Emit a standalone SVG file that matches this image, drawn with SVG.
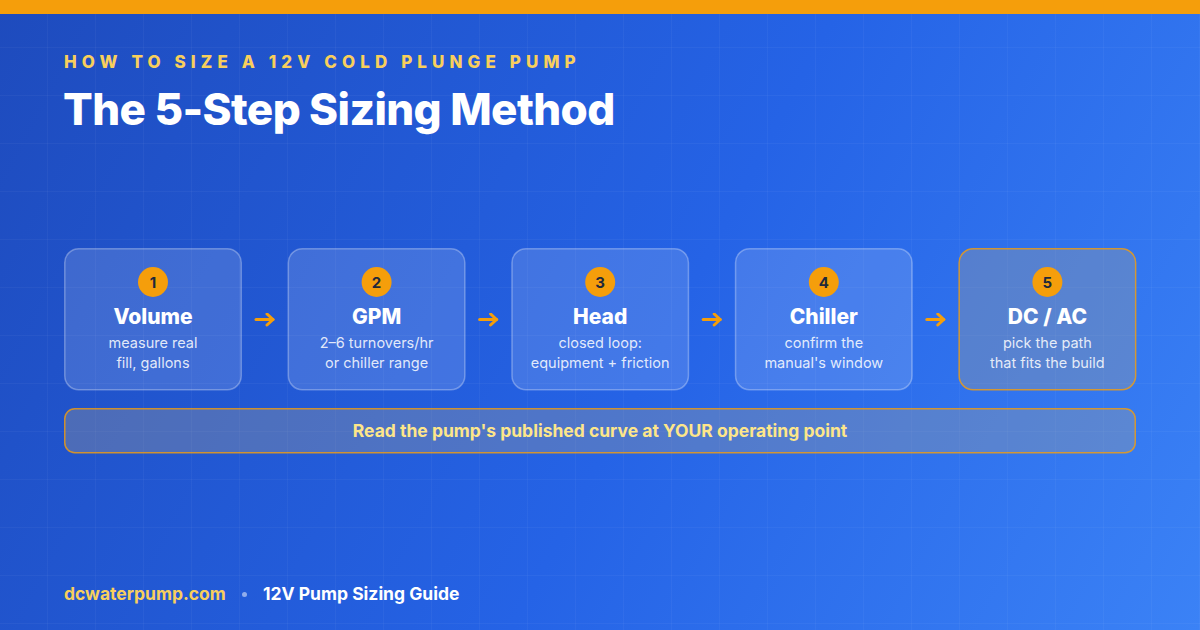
<svg xmlns="http://www.w3.org/2000/svg" width="1200" height="630" viewBox="0 0 1200 630">
<defs>
<linearGradient id="bg" x1="0" y1="0" x2="1200" y2="630" gradientUnits="userSpaceOnUse">
<stop offset="0" stop-color="#1e4bbd"/>
<stop offset="0.55" stop-color="#2563e6"/>
<stop offset="1" stop-color="#3b82f6"/>
</linearGradient>
<pattern id="grid" width="48" height="48" patternUnits="userSpaceOnUse">
<path d="M48 0V48M0 48H48" fill="none" stroke="#ffffff" stroke-opacity="0.07" stroke-width="1"/>
</pattern>
<marker id="ah" viewBox="0 0 14 14" refX="11" refY="7" markerWidth="14" markerHeight="14" markerUnits="userSpaceOnUse" orient="auto">
<path d="M5 1.5L11 7L5 12.5" fill="none" stroke="#f59e0b" stroke-width="3" stroke-linecap="round" stroke-linejoin="round"/>
</marker>
</defs>
<style>
.card{fill:#ffffff;fill-opacity:0.14;stroke:#ffffff;stroke-opacity:0.3;stroke-width:1.5}
.card5{fill:#b4a58c;fill-opacity:0.3;stroke:#f59e0b;stroke-opacity:0.8;stroke-width:1.5}
.badge{fill:#f59e0b}
.num{font-family:Inter,"Liberation Sans",sans-serif;font-weight:700;font-size:15px;fill:#1e293b;text-anchor:middle}
.ttl{font-family:Inter,"Liberation Sans",sans-serif;font-weight:800;font-size:21px;fill:#ffffff;text-anchor:middle}
.sub{font-family:Inter,"Liberation Sans",sans-serif;font-size:14.5px;fill:#ffffff;fill-opacity:0.86;text-anchor:middle}
.conn{stroke:#f59e0b;stroke-width:3;stroke-linecap:round;fill:none}
</style>
<rect width="1200" height="630" fill="url(#bg)"/>
<rect width="1200" height="630" fill="url(#grid)"/>
<rect width="1200" height="14" fill="#f59e0b"/>
<text x="64" y="68" font-family="Inter,'Liberation Sans',sans-serif" font-weight="800" font-size="17" letter-spacing="5.1" fill="#f8cf5c">HOW TO SIZE A 12V COLD PLUNGE PUMP</text>
<text x="63" y="125" font-family="Inter,'Liberation Sans',sans-serif" font-weight="800" font-size="44" letter-spacing="-0.6" fill="#ffffff">The 5-Step Sizing Method</text>
<g id="step1">
<rect class="card" x="64.75" y="248.75" width="176.5" height="141" rx="14"/>
<circle class="badge" cx="153" cy="282" r="15"/>
<text class="num" x="153" y="287.5">1</text>
<text class="ttl" x="153" y="324">Volume</text>
<text class="sub" x="153" y="348">measure real</text>
<text class="sub" x="153" y="368">fill, gallons</text>
</g>
<g id="step2">
<rect class="card" x="288.35" y="248.75" width="176.5" height="141" rx="14"/>
<circle class="badge" cx="376.6" cy="282" r="15"/>
<text class="num" x="376.6" y="287.5">2</text>
<text class="ttl" x="376.6" y="324">GPM</text>
<text class="sub" x="376.6" y="348">2–6 turnovers/hr</text>
<text class="sub" x="376.6" y="368">or chiller range</text>
</g>
<g id="step3">
<rect class="card" x="511.95" y="248.75" width="176.5" height="141" rx="14"/>
<circle class="badge" cx="600.2" cy="282" r="15"/>
<text class="num" x="600.2" y="287.5">3</text>
<text class="ttl" x="600.2" y="324">Head</text>
<text class="sub" x="600.2" y="348">closed loop:</text>
<text class="sub" x="600.2" y="368">equipment + friction</text>
</g>
<g id="step4">
<rect class="card" x="735.55" y="248.75" width="176.5" height="141" rx="14"/>
<circle class="badge" cx="823.8" cy="282" r="15"/>
<text class="num" x="823.8" y="287.5">4</text>
<text class="ttl" x="823.8" y="324">Chiller</text>
<text class="sub" x="823.8" y="348">confirm the</text>
<text class="sub" x="823.8" y="368">manual's window</text>
</g>
<g id="step5">
<rect class="card5" x="959.15" y="248.75" width="176.5" height="141" rx="14"/>
<circle class="badge" cx="1047.4" cy="282" r="15"/>
<text class="num" x="1047.4" y="287.5">5</text>
<text class="ttl" x="1047.4" y="324">DC / AC</text>
<text class="sub" x="1047.4" y="348">pick the path</text>
<text class="sub" x="1047.4" y="368">that fits the build</text>
</g>
<g id="connectors">
<path class="conn" d="M256 319.5H273" marker-end="url(#ah)"/>
<path class="conn" d="M479.6 319.5H496.6" marker-end="url(#ah)"/>
<path class="conn" d="M703.2 319.5H720.2" marker-end="url(#ah)"/>
<path class="conn" d="M926.8 319.5H943.8" marker-end="url(#ah)"/>
</g>
<g id="callout">
<rect x="64.75" y="408.75" width="1070.5" height="44" rx="10" fill="#b4a58c" fill-opacity="0.3" stroke="#f59e0b" stroke-opacity="0.8" stroke-width="1.5"/>
<text x="600" y="437" text-anchor="middle" font-family="Inter,'Liberation Sans',sans-serif" font-weight="700" font-size="17.5" fill="#fde68a">Read the pump's published curve at YOUR operating point</text>
</g>
<text x="64" y="600" font-family="Inter,'Liberation Sans',sans-serif" font-weight="700" font-size="17.5" fill="#f8cf5c">dcwaterpump.com</text>
<circle cx="244.5" cy="594.5" r="2.5" fill="#ffffff" fill-opacity="0.5"/>
<text x="263" y="600" font-family="Inter,'Liberation Sans',sans-serif" font-weight="700" font-size="17.5" fill="#ffffff">12V Pump Sizing Guide</text>
</svg>
